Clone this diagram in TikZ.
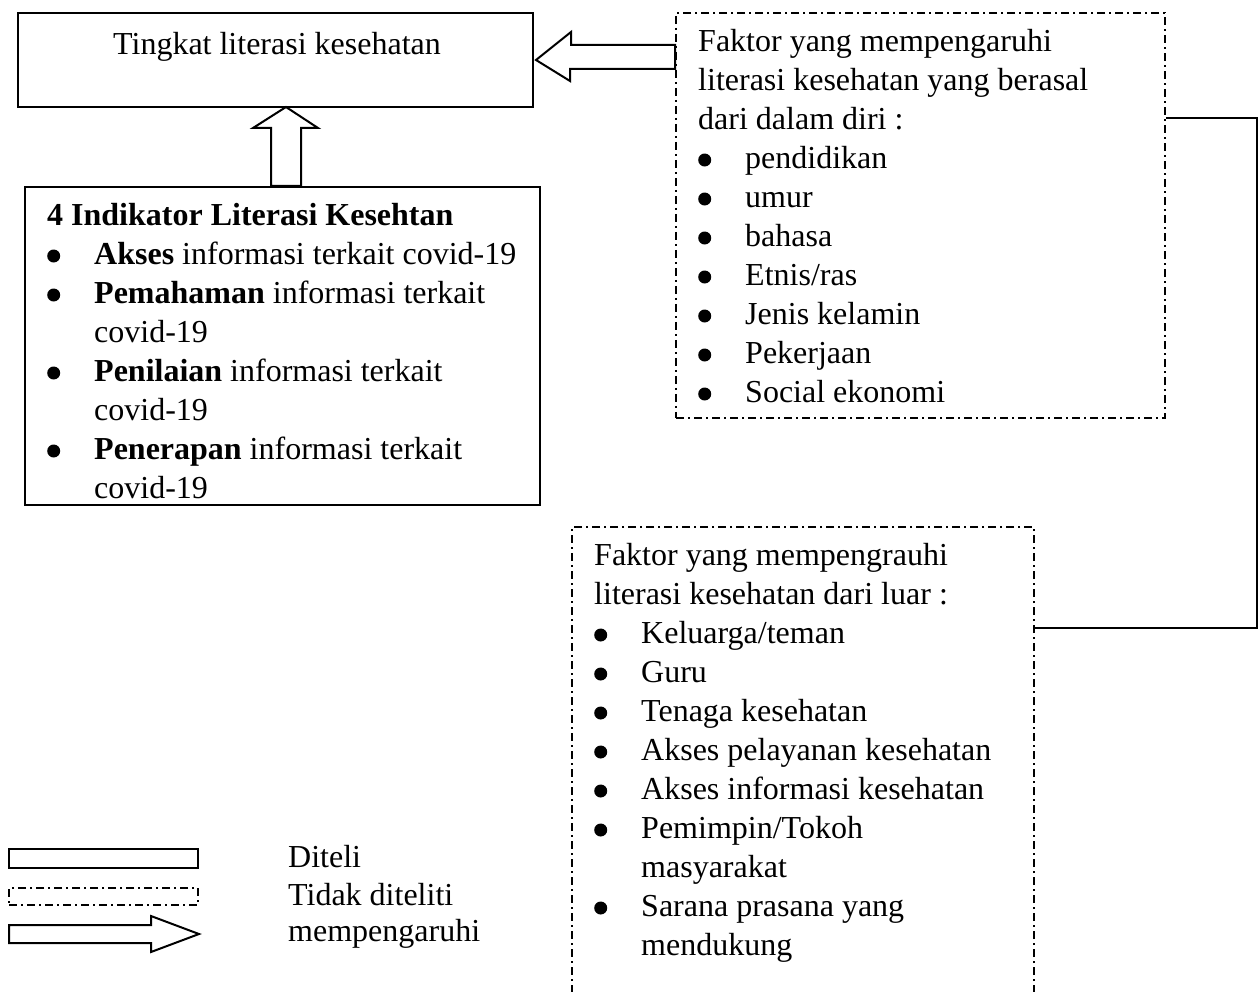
\documentclass[tikz,border=0pt]{standalone}
\usepackage{fontspec}
\setmainfont{Liberation Serif}
\newcommand{\bul}{\makebox[47pt][l]{\tikz[baseline={(0pt,-8pt)}]\fill (6.5pt,0pt) circle[radius=6.5pt];}}
\newcommand{\ind}{\hspace*{47pt}}
\begin{document}
\begin{tikzpicture}[x=1pt,y=-1pt,
  solidbox/.style={draw,line width=2pt},
  dotbox/.style={draw,line width=2pt,dash pattern=on 8pt off 4pt on 2pt off 4pt},
  blockarrow/.style={draw,line width=2pt,fill=white,line join=miter},
  txt/.style={anchor=base west,inner sep=0pt,align=left,font=\fontsize{32}{39}\selectfont},
  conn/.style={line width=2pt}]
\useasboundingbox (0,0) rectangle (1260,992);
% boxes
\node[solidbox,inner sep=0pt,minimum width=515pt,minimum height=94pt] (box1) at (275.5,60) {};
\node[solidbox,inner sep=0pt,minimum width=515pt,minimum height=318pt] (box2) at (282.5,346) {};
\node[dotbox,inner sep=0pt,minimum width=489pt,minimum height=405pt] (box3) at (920.5,215.5) {};
\node[dotbox,inner sep=0pt,minimum width=462pt,minimum height=490pt] (box4) at (803,772) {};
% texts (anchored at the baseline of the last line)
\node[txt,anchor=base] (t1) at (277,55) {Tingkat literasi kesehatan};
\node[txt] (t2) at (47,498) {\textbf{4 Indikator Literasi Kesehtan}\\
\bul\textbf{Akses} informasi terkait covid-19\\
\bul\textbf{Pemahaman} informasi terkait\\
\ind covid-19\\
\bul\textbf{Penilaian} informasi terkait\\
\ind covid-19\\
\bul\textbf{Penerapan} informasi terkait\\
\ind covid-19};
\node[txt] (t3) at (698,402) {Faktor yang mempengaruhi\\
literasi kesehatan yang berasal\\
dari dalam diri :\\
\bul pendidikan\\
\bul umur\\
\bul bahasa\\
\bul Etnis/ras\\
\bul Jenis kelamin\\
\bul Pekerjaan\\
\bul Social ekonomi};
\node[txt] (t4) at (594,955) {Faktor yang mempengrauhi\\
literasi kesehatan dari luar :\\
\bul Keluarga/teman\\
\bul Guru\\
\bul Tenaga kesehatan\\
\bul Akses pelayanan kesehatan\\
\bul Akses informasi kesehatan\\
\bul Pemimpin/Tokoh\\
\ind masyarakat\\
\bul Sarana prasana yang\\
\ind mendukung};
% block arrow box3 -> box1
\draw[blockarrow] (box1.east) ++(2,0) coordinate (tipA) -- ++(35,-28) -- ++(0,13) -- (box3.west |- 0,45) -- (box3.west |- 0,69) -- (570,69) -- (570,81) -- cycle;
% block arrow box2 -> box1
\draw[blockarrow] (286,107) coordinate (tipB) -- (318,128) -- (301,128) -- (301,0 |- box2.north) -- (271,0 |- box2.north) -- (271,128) -- (253,128) -- cycle;
% connector box3 -- box4
\coordinate (c1) at (1257,118);
\coordinate (c2) at (1257,628);
\draw[conn] (c1 -| box3.east) -- (c1) -- (c2) -- (c2 -| box4.east);
% legend
\node[solidbox,inner sep=0pt,minimum width=189pt,minimum height=19pt] (lg1) at (103.5,858.5) {};
\node[dotbox,inner sep=0pt,minimum width=189pt,minimum height=17pt] (lg2) at (103.5,896.5) {};
\draw[blockarrow] (9,925) coordinate (lg3) -- (151,925) -- (151,916) -- (199,934) -- (151,952) -- (151,943) -- (9,943) -- cycle;
\node[txt] (l1) at (288,867) {Diteli};
\node[txt] (l2) at (288,905) {Tidak diteliti};
\node[txt] (l3) at (288,941) {mempengaruhi};
\end{tikzpicture}
\end{document}
